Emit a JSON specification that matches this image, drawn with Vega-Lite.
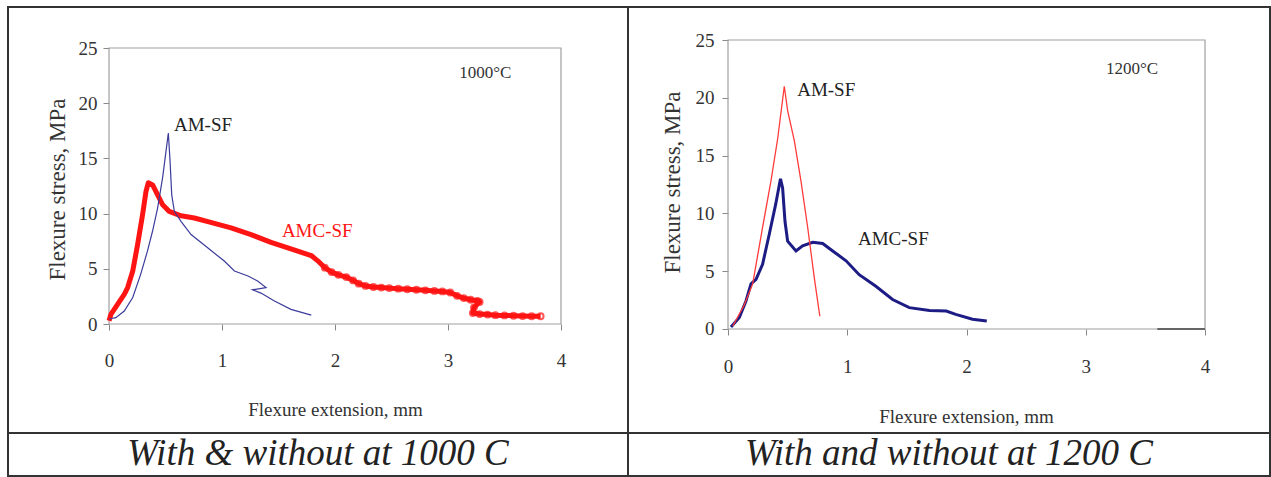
{
  "$schema": "https://vega.github.io/schema/vega-lite/v6.json",
  "background": "white",
  "padding": {"left": 7, "top": 6, "right": 0, "bottom": 0},
  "bounds": "flush",
  "columns": 2,
  "align": "each",
  "spacing": 0,
  "config": {
    "view": {"stroke": "#333333", "strokeWidth": 2},
    "concat": {"spacing": 0},
    "axis": {
      "labelFont": "Liberation Serif",
      "labelFontSize": 19,
      "labelColor": "#333333",
      "titleFont": "Liberation Serif",
      "titleFontWeight": "normal",
      "titleColor": "#333333",
      "tickColor": "#888888",
      "tickSize": 6,
      "grid": false,
      "domain": false,
      "labelOverlap": false,
      "labelBound": false,
      "labelFlush": false
    }
  },
  "datasets": {
    "left": [
      {"s": "AM-SF", "i": 0, "x": 0.0, "y": 0.45},
      {"s": "AM-SF", "i": 1, "x": 0.06, "y": 0.57},
      {"s": "AM-SF", "i": 2, "x": 0.135, "y": 1.18},
      {"s": "AM-SF", "i": 3, "x": 0.21, "y": 2.4},
      {"s": "AM-SF", "i": 4, "x": 0.28, "y": 4.5},
      {"s": "AM-SF", "i": 5, "x": 0.34, "y": 6.6},
      {"s": "AM-SF", "i": 6, "x": 0.385, "y": 8.4},
      {"s": "AM-SF", "i": 7, "x": 0.43, "y": 10.5},
      {"s": "AM-SF", "i": 8, "x": 0.475, "y": 13.3},
      {"s": "AM-SF", "i": 9, "x": 0.505, "y": 15.7},
      {"s": "AM-SF", "i": 10, "x": 0.525, "y": 17.3},
      {"s": "AM-SF", "i": 11, "x": 0.54, "y": 14.8},
      {"s": "AM-SF", "i": 12, "x": 0.555, "y": 11.7},
      {"s": "AM-SF", "i": 13, "x": 0.578, "y": 10.2},
      {"s": "AM-SF", "i": 14, "x": 0.637, "y": 9.3},
      {"s": "AM-SF", "i": 15, "x": 0.726, "y": 8.1},
      {"s": "AM-SF", "i": 16, "x": 0.873, "y": 6.9},
      {"s": "AM-SF", "i": 17, "x": 1.02, "y": 5.7},
      {"s": "AM-SF", "i": 18, "x": 1.11, "y": 4.8},
      {"s": "AM-SF", "i": 19, "x": 1.23, "y": 4.35},
      {"s": "AM-SF", "i": 20, "x": 1.315, "y": 3.9},
      {"s": "AM-SF", "i": 21, "x": 1.39, "y": 3.3},
      {"s": "AM-SF", "i": 22, "x": 1.27, "y": 3.1},
      {"s": "AM-SF", "i": 23, "x": 1.345, "y": 2.8},
      {"s": "AM-SF", "i": 24, "x": 1.46, "y": 2.1},
      {"s": "AM-SF", "i": 25, "x": 1.61, "y": 1.33},
      {"s": "AM-SF", "i": 26, "x": 1.79, "y": 0.8},
      {"s": "AMC-SF", "i": 0, "x": 0.0, "y": 0.3},
      {"s": "AMC-SF", "i": 1, "x": 0.018, "y": 0.9},
      {"s": "AMC-SF", "i": 2, "x": 0.077, "y": 1.8},
      {"s": "AMC-SF", "i": 3, "x": 0.136, "y": 2.7},
      {"s": "AMC-SF", "i": 4, "x": 0.165, "y": 3.3},
      {"s": "AMC-SF", "i": 5, "x": 0.21, "y": 4.8},
      {"s": "AMC-SF", "i": 6, "x": 0.253, "y": 7.2},
      {"s": "AMC-SF", "i": 7, "x": 0.297, "y": 9.9},
      {"s": "AMC-SF", "i": 8, "x": 0.327, "y": 12.0},
      {"s": "AMC-SF", "i": 9, "x": 0.348, "y": 12.8},
      {"s": "AMC-SF", "i": 10, "x": 0.386, "y": 12.6},
      {"s": "AMC-SF", "i": 11, "x": 0.43, "y": 11.7},
      {"s": "AMC-SF", "i": 12, "x": 0.475, "y": 10.8},
      {"s": "AMC-SF", "i": 13, "x": 0.533, "y": 10.2},
      {"s": "AMC-SF", "i": 14, "x": 0.637, "y": 9.8},
      {"s": "AMC-SF", "i": 15, "x": 0.755, "y": 9.6},
      {"s": "AMC-SF", "i": 16, "x": 0.9, "y": 9.2},
      {"s": "AMC-SF", "i": 17, "x": 1.08, "y": 8.7},
      {"s": "AMC-SF", "i": 18, "x": 1.257, "y": 8.1},
      {"s": "AMC-SF", "i": 19, "x": 1.434, "y": 7.4},
      {"s": "AMC-SF", "i": 20, "x": 1.61, "y": 6.8},
      {"s": "AMC-SF", "i": 21, "x": 1.79, "y": 6.2},
      {"s": "AMC-SF", "i": 22, "x": 1.85, "y": 5.7},
      {"s": "AMC-SF", "i": 23, "x": 1.91, "y": 5.1},
      {"s": "AMC-SF", "i": 24, "x": 1.97, "y": 4.7},
      {"s": "AMC-SF", "i": 25, "x": 2.03, "y": 4.45},
      {"s": "AMC-SF", "i": 26, "x": 2.1, "y": 4.25},
      {"s": "AMC-SF", "i": 27, "x": 2.16, "y": 3.95},
      {"s": "AMC-SF", "i": 28, "x": 2.21, "y": 3.65},
      {"s": "AMC-SF", "i": 29, "x": 2.27, "y": 3.45},
      {"s": "AMC-SF", "i": 30, "x": 2.34, "y": 3.35},
      {"s": "AMC-SF", "i": 31, "x": 2.41, "y": 3.3},
      {"s": "AMC-SF", "i": 32, "x": 2.48, "y": 3.25},
      {"s": "AMC-SF", "i": 33, "x": 2.56, "y": 3.2},
      {"s": "AMC-SF", "i": 34, "x": 2.64, "y": 3.15},
      {"s": "AMC-SF", "i": 35, "x": 2.72, "y": 3.1},
      {"s": "AMC-SF", "i": 36, "x": 2.8, "y": 3.05},
      {"s": "AMC-SF", "i": 37, "x": 2.88, "y": 3.0},
      {"s": "AMC-SF", "i": 38, "x": 2.95, "y": 2.95},
      {"s": "AMC-SF", "i": 39, "x": 3.02, "y": 2.85},
      {"s": "AMC-SF", "i": 40, "x": 3.08, "y": 2.55},
      {"s": "AMC-SF", "i": 41, "x": 3.14, "y": 2.35},
      {"s": "AMC-SF", "i": 42, "x": 3.2, "y": 2.2},
      {"s": "AMC-SF", "i": 43, "x": 3.26, "y": 2.1},
      {"s": "AMC-SF", "i": 44, "x": 3.28, "y": 2.0},
      {"s": "AMC-SF", "i": 45, "x": 3.23, "y": 1.5},
      {"s": "AMC-SF", "i": 46, "x": 3.22, "y": 1.0},
      {"s": "AMC-SF", "i": 47, "x": 3.28, "y": 0.9},
      {"s": "AMC-SF", "i": 48, "x": 3.35, "y": 0.85},
      {"s": "AMC-SF", "i": 49, "x": 3.42, "y": 0.8},
      {"s": "AMC-SF", "i": 50, "x": 3.5, "y": 0.78},
      {"s": "AMC-SF", "i": 51, "x": 3.58, "y": 0.75},
      {"s": "AMC-SF", "i": 52, "x": 3.66, "y": 0.72},
      {"s": "AMC-SF", "i": 53, "x": 3.74, "y": 0.7},
      {"s": "AMC-SF", "i": 54, "x": 3.82, "y": 0.7}
    ],
    "right": [
      {"s": "AM-SF", "i": 0, "x": 0.04, "y": 0.26},
      {"s": "AM-SF", "i": 1, "x": 0.137, "y": 2.1},
      {"s": "AM-SF", "i": 2, "x": 0.207, "y": 3.9},
      {"s": "AM-SF", "i": 3, "x": 0.29, "y": 8.8},
      {"s": "AM-SF", "i": 4, "x": 0.36, "y": 12.8},
      {"s": "AM-SF", "i": 5, "x": 0.417, "y": 16.5},
      {"s": "AM-SF", "i": 6, "x": 0.472, "y": 21.0},
      {"s": "AM-SF", "i": 7, "x": 0.5, "y": 18.9},
      {"s": "AM-SF", "i": 8, "x": 0.556, "y": 16.3},
      {"s": "AM-SF", "i": 9, "x": 0.612, "y": 12.8},
      {"s": "AM-SF", "i": 10, "x": 0.668, "y": 8.8},
      {"s": "AM-SF", "i": 11, "x": 0.724, "y": 4.4},
      {"s": "AM-SF", "i": 12, "x": 0.77, "y": 1.1},
      {"s": "AMC-SF", "i": 0, "x": 0.025, "y": 0.17},
      {"s": "AMC-SF", "i": 1, "x": 0.095, "y": 1.0},
      {"s": "AMC-SF", "i": 2, "x": 0.15, "y": 2.4},
      {"s": "AMC-SF", "i": 3, "x": 0.193, "y": 3.9},
      {"s": "AMC-SF", "i": 4, "x": 0.235, "y": 4.3},
      {"s": "AMC-SF", "i": 5, "x": 0.29, "y": 5.6},
      {"s": "AMC-SF", "i": 6, "x": 0.346, "y": 8.2},
      {"s": "AMC-SF", "i": 7, "x": 0.4, "y": 10.8},
      {"s": "AMC-SF", "i": 8, "x": 0.44, "y": 13.0},
      {"s": "AMC-SF", "i": 9, "x": 0.458, "y": 12.2},
      {"s": "AMC-SF", "i": 10, "x": 0.478, "y": 9.3},
      {"s": "AMC-SF", "i": 11, "x": 0.5, "y": 7.6},
      {"s": "AMC-SF", "i": 12, "x": 0.57, "y": 6.75},
      {"s": "AMC-SF", "i": 13, "x": 0.626, "y": 7.2},
      {"s": "AMC-SF", "i": 14, "x": 0.71, "y": 7.5},
      {"s": "AMC-SF", "i": 15, "x": 0.794, "y": 7.4},
      {"s": "AMC-SF", "i": 16, "x": 0.878, "y": 6.75},
      {"s": "AMC-SF", "i": 17, "x": 0.99, "y": 5.9},
      {"s": "AMC-SF", "i": 18, "x": 1.1, "y": 4.7},
      {"s": "AMC-SF", "i": 19, "x": 1.24, "y": 3.7},
      {"s": "AMC-SF", "i": 20, "x": 1.38, "y": 2.55},
      {"s": "AMC-SF", "i": 21, "x": 1.52, "y": 1.85},
      {"s": "AMC-SF", "i": 22, "x": 1.69, "y": 1.6},
      {"s": "AMC-SF", "i": 23, "x": 1.83, "y": 1.55},
      {"s": "AMC-SF", "i": 24, "x": 1.91, "y": 1.27},
      {"s": "AMC-SF", "i": 25, "x": 2.05, "y": 0.84},
      {"s": "AMC-SF", "i": 26, "x": 2.17, "y": 0.7}
    ]
  },
  "concat": [
    {
      "width": 620,
      "height": 426,
      "encoding": {
        "x": {
          "field": "x", "type": "quantitative",
          "scale": {"domain": [-0.894, 4.593], "nice": false, "zero": false},
          "axis": {
            "orient": "bottom", "offset": -109, "values": [0, 1, 2, 3, 4],
            "labelPadding": 21, "title": "Flexure extension, mm",
            "titleFontSize": 19, "titleX": 327, "titleY": 85, "titleBaseline": "middle"
          }
        },
        "y": {
          "field": "y", "type": "quantitative",
          "scale": {"domain": [-9.873, 28.714], "nice": false, "zero": false},
          "axis": {
            "orient": "left", "offset": -101, "values": [0, 5, 10, 15, 20, 25],
            "labelPadding": 6, "title": "Flexure stress, MPa",
            "titleFontSize": 23, "titleX": -52, "titleY": 182, "titleBaseline": "middle", "titleAngle": -90
          }
        }
      },
      "layer": [
        {
          "data": {"values": [{"x": 0, "x2": 4, "y": 0, "y2": 25}]},
          "mark": {"type": "rect", "filled": false, "stroke": "#a0a0a0", "strokeWidth": 1.2},
          "encoding": {"x2": {"field": "x2"}, "y2": {"field": "y2"}}
        },
        {
          "data": {"name": "left"},
          "transform": [{"filter": "datum.s === 'AMC-SF'"}],
          "mark": {"type": "line", "color": "#ff1414", "strokeWidth": 5, "strokeJoin": "round"},
          "encoding": {"order": {"field": "i"}}
        },
        {
          "data": {"name": "left"},
          "transform": [{"filter": "datum.s === 'AMC-SF' && datum.x >= 1.9"}],
          "mark": {"type": "point", "filled": false, "color": "#ff1414", "size": 34, "strokeWidth": 2}
        },
        {
          "data": {"name": "left"},
          "transform": [{"filter": "datum.s === 'AM-SF'"}],
          "mark": {"type": "line", "color": "#3c3c9c", "strokeWidth": 1.2},
          "encoding": {"order": {"field": "i"}}
        },
        {
          "data": {"values": [
            {"x": 0.575, "y": 18.0, "label": "AM-SF"}
          ]},
          "mark": {"type": "text", "font": "Liberation Serif", "fontSize": 19, "align": "left", "baseline": "middle", "color": "#222222"},
          "encoding": {"text": {"field": "label"}}
        },
        {
          "data": {"values": [
            {"x": 3.1, "y": 22.7, "label": "1000°C"}
          ]},
          "mark": {"type": "text", "font": "Liberation Serif", "fontSize": 17, "align": "left", "baseline": "middle", "color": "#333333"},
          "encoding": {"text": {"field": "label"}}
        },
        {
          "data": {"values": [
            {"x": 1.53, "y": 8.4, "label": "AMC-SF"}
          ]},
          "mark": {"type": "text", "font": "Liberation Serif", "fontSize": 19, "align": "left", "baseline": "middle", "color": "#ff1414"},
          "encoding": {"text": {"field": "label"}}
        }
      ]
    },
    {
      "width": 642,
      "height": 426,
      "encoding": {
        "x": {
          "field": "x", "type": "quantitative",
          "scale": {"domain": [-0.8386, 4.545], "nice": false, "zero": false},
          "axis": {
            "orient": "bottom", "offset": -104, "values": [0, 1, 2, 3, 4],
            "labelPadding": 22, "title": "Flexure extension, mm",
            "titleFontSize": 19, "titleX": 338, "titleY": 87, "titleBaseline": "middle"
          }
        },
        "y": {
          "field": "y", "type": "quantitative",
          "scale": {"domain": [-8.997, 27.855], "nice": false, "zero": false},
          "axis": {
            "orient": "left", "offset": -100, "values": [0, 5, 10, 15, 20, 25],
            "labelPadding": 8, "title": "Flexure stress, MPa",
            "titleFontSize": 23, "titleX": -56, "titleY": 175, "titleBaseline": "middle", "titleAngle": -90
          }
        }
      },
      "layer": [
        {
          "data": {"values": [{"x": 0, "x2": 4, "y": 0, "y2": 25}]},
          "mark": {"type": "rect", "filled": false, "stroke": "#a0a0a0", "strokeWidth": 1.2},
          "encoding": {"x2": {"field": "x2"}, "y2": {"field": "y2"}}
        },
        {
          "data": {"values": [{"x": 3.6, "x2": 4.0, "y": 0}]},
          "mark": {"type": "rule", "color": "#666666", "strokeWidth": 2},
          "encoding": {"x2": {"field": "x2"}}
        },
        {
          "data": {"name": "right"},
          "transform": [{"filter": "datum.s === 'AMC-SF'"}],
          "mark": {"type": "line", "color": "#1c1c84", "strokeWidth": 3},
          "encoding": {"order": {"field": "i"}}
        },
        {
          "data": {"name": "right"},
          "transform": [{"filter": "datum.s === 'AM-SF'"}],
          "mark": {"type": "line", "color": "#ff3b3b", "strokeWidth": 1.3},
          "encoding": {"order": {"field": "i"}}
        },
        {
          "data": {"values": [
            {"x": 0.58, "y": 20.7, "label": "AM-SF"},
            {"x": 1.09, "y": 7.8, "label": "AMC-SF"}
          ]},
          "mark": {"type": "text", "font": "Liberation Serif", "fontSize": 19, "align": "left", "baseline": "middle", "color": "#222222"},
          "encoding": {"text": {"field": "label"}}
        },
        {
          "data": {"values": [
            {"x": 3.17, "y": 22.5, "label": "1200°C"}
          ]},
          "mark": {"type": "text", "font": "Liberation Serif", "fontSize": 17, "align": "left", "baseline": "middle", "color": "#333333"},
          "encoding": {"text": {"field": "label"}}
        }
      ]
    },
    {
      "width": 620,
      "height": 43,
      "view": {"stroke": "#333333", "strokeWidth": 2},
      "data": {"values": [{"t": "With & without at 1000 C"}]},
      "mark": {"type": "text", "font": "Liberation Serif", "fontStyle": "italic", "fontSize": 37, "baseline": "middle", "dy": -1, "color": "#222222"},
      "encoding": {
        "x": {"datum": 0.5, "type": "quantitative", "scale": {"domain": [0, 1]}, "axis": null},
        "y": {"datum": 0.5, "type": "quantitative", "scale": {"domain": [0, 1]}, "axis": null},
        "text": {"field": "t"}
      }
    },
    {
      "width": 642,
      "height": 43,
      "view": {"stroke": "#333333", "strokeWidth": 2},
      "data": {"values": [{"t": "With and without at 1200 C"}]},
      "mark": {"type": "text", "font": "Liberation Serif", "fontStyle": "italic", "fontSize": 37, "baseline": "middle", "dy": -1, "color": "#222222"},
      "encoding": {
        "x": {"datum": 0.5, "type": "quantitative", "scale": {"domain": [0, 1]}, "axis": null},
        "y": {"datum": 0.5, "type": "quantitative", "scale": {"domain": [0, 1]}, "axis": null},
        "text": {"field": "t"}
      }
    }
  ]
}
